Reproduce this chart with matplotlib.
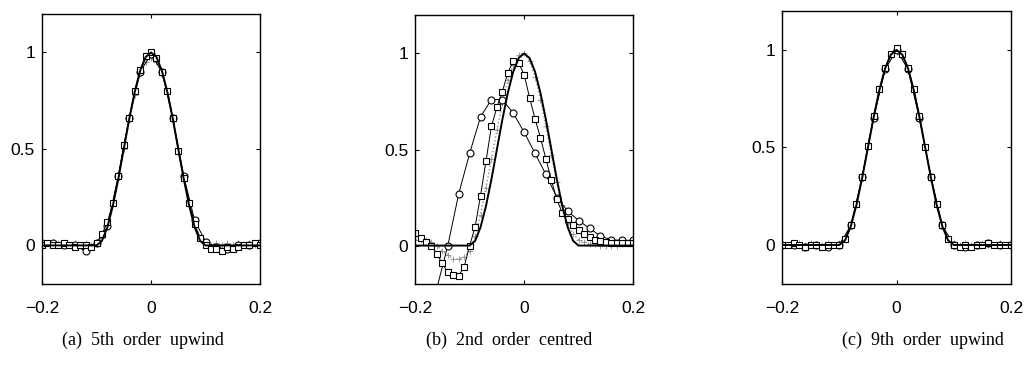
import numpy as np
import matplotlib
matplotlib.use('Agg')
import matplotlib.pyplot as plt

# x positions of the sampled values
x41 = np.round(np.linspace(-0.2, 0.2, 41), 2)
x21 = np.round(np.linspace(-0.2, 0.2, 21), 2)

# exact profile (same in all three panels)
exact = [0, 0, 0, 0, 0, 0, 0, 0, 0, 0,
         0, 0.024, 0.095, 0.206, 0.345, 0.5, 0.655, 0.794, 0.905, 0.976, 1.0,
         0.976, 0.905, 0.794, 0.655, 0.5, 0.345, 0.206, 0.095, 0.024, 0,
         0, 0, 0, 0, 0, 0, 0, 0, 0, 0]

# (a) 5th order upwind
a_circ = [0.01, 0.01, 0.0, 0.0, -0.03, 0.01, 0.10, 0.36, 0.66, 0.90, 0.99,
          0.90, 0.66, 0.36, 0.13, 0.02, -0.01, -0.02, 0.0, 0.0, 0.01]
a_sq = [0.0, 0.01, 0.0, 0.0, 0.01, 0.0, -0.01, 0.0, 0.0, -0.01,
        0.01, 0.06, 0.12, 0.22, 0.36, 0.52, 0.66, 0.80, 0.91, 0.98, 1.0,
        0.97, 0.90, 0.80, 0.66, 0.49, 0.35, 0.22, 0.11, 0.04, 0.0,
        -0.02, -0.02, -0.03, -0.01, -0.02, -0.01, 0.0, 0.0, 0.01, 0.0]
a_dot = [0.01, 0.01, 0.02, 0.01, 0.01, 0.0, 0.01, 0.0, 0.01, 0.0,
         0.01, 0.04, 0.11, 0.22, 0.35, 0.50, 0.65, 0.78, 0.89, 0.95, 0.97,
         0.95, 0.89, 0.79, 0.65, 0.50, 0.35, 0.22, 0.11, 0.04, 0.01,
         0.0, 0.01, 0.0, 0.01, 0.0, 0.01, 0.0, 0.01, 0.0, 0.01]

# (b) 2nd order centred
b_circ_x = [-0.18, -0.16, -0.14, -0.12, -0.10, -0.08, -0.06, -0.04, -0.02, 0.0,
            0.02, 0.04, 0.06, 0.08, 0.10, 0.12, 0.14, 0.16, 0.18, 0.20]
b_circ = [-0.50, -0.22, 0.0, 0.27, 0.48, 0.67, 0.76, 0.76, 0.69, 0.59,
          0.48, 0.37, 0.25, 0.18, 0.13, 0.09, 0.05, 0.03, 0.027, 0.027]
b_sq = [0.065, 0.04, 0.02, 0.0, -0.046, -0.093, -0.14, -0.153, -0.156, -0.11,
        0.0, 0.096, 0.26, 0.44, 0.62, 0.72, 0.80, 0.90, 0.96, 0.95, 0.89,
        0.77, 0.66, 0.56, 0.45, 0.34, 0.24, 0.17, 0.14, 0.105, 0.08,
        0.062, 0.045, 0.03, 0.025, 0.02, 0.015, 0.015, 0.015, 0.015, 0.015]
b_dot = [0.03, 0.03, 0.03, 0.02, 0.0, -0.03, -0.05, -0.07, -0.07, -0.06,
         -0.03, 0.05, 0.16, 0.30, 0.45, 0.60, 0.74, 0.86, 0.94, 0.99, 1.0,
         0.96, 0.88, 0.76, 0.62, 0.47, 0.33, 0.21, 0.12, 0.06, 0.03,
         0.02, 0.01, 0.01, 0.0, 0.0, 0.0, 0.0, 0.01, 0.01, 0.01]

# (c) 9th order upwind
c_circ = [0.0, 0.0, -0.01, 0.0, -0.01, 0.0, 0.10, 0.35, 0.65, 0.90, 1.0,
          0.90, 0.65, 0.35, 0.10, 0.0, -0.01, 0.0, 0.01, 0.0, 0.0]
c_sq = [0.0, 0.0, 0.01, 0.0, -0.01, 0.0, 0.0, -0.01, 0.0, 0.0,
        0.0, 0.03, 0.10, 0.21, 0.35, 0.51, 0.66, 0.80, 0.91, 0.98, 1.01,
        0.98, 0.91, 0.80, 0.66, 0.50, 0.35, 0.21, 0.10, 0.03, 0.0,
        -0.01, 0.0, -0.01, 0.0, 0.0, 0.01, 0.0, 0.0, 0.0, 0.0]
c_dot = [0.01, 0.0, 0.01, 0.01, 0.0, 0.01, 0.0, 0.0, 0.01, 0.0,
         0.01, 0.04, 0.11, 0.21, 0.35, 0.50, 0.65, 0.79, 0.90, 0.97, 0.99,
         0.97, 0.90, 0.79, 0.65, 0.50, 0.35, 0.21, 0.10, 0.04, 0.01,
         0.0, 0.01, 0.0, 0.0, 0.01, 0.0, 0.0, 0.01, 0.0, 0.0]

captions = ['(a)  5th  order  upwind', '(b)  2nd  order  centred',
            '(c)  9th  order  upwind']

fig = plt.figure(figsize=(10.25, 3.71), dpi=100)
boxes = [[0.041, 0.2345, 0.2127, 0.728],
         [0.405, 0.2345, 0.2127, 0.725],
         [0.763, 0.2345, 0.2234, 0.736]]
cap_x = [0.139, 0.497, 0.900]

panels = [
    (x21, a_circ, x41, a_sq, a_dot),
    (b_circ_x, b_circ, x41, b_sq, b_dot),
    (x21, c_circ, x41, c_sq, c_dot),
]

for i, (cx, cy, sx, sy, dy) in enumerate(panels):
    ax = fig.add_axes(boxes[i])
    ax.plot(x41, dy, ':', color='0.55', lw=1.0, marker='+', ms=4, mew=0.6)
    ax.plot(cx, cy, '-', color='k', lw=0.7, marker='o', ms=5,
            mfc='white', mec='k', mew=0.8)
    ax.plot(sx, sy, '-', color='k', lw=0.7, marker='s', ms=4.5,
            mfc='white', mec='k', mew=0.8)
    ax.plot(x41, exact, '-', color='k', lw=1.4)
    ax.set_xlim(-0.2, 0.2)
    ax.set_ylim(-0.2, 1.2)
    ax.set_xticks([-0.2, 0, 0.2])
    ax.set_xticklabels(['\u22120.2', '0', '0.2'])
    ax.set_yticks([0, 0.5, 1])
    ax.set_yticklabels(['0', '0.5', '1'])
    ax.tick_params(direction='in', length=3, width=0.8, labelsize=12.5,
                   top=True, right=True)
    ax.tick_params(axis='x', pad=12)
    ax.tick_params(axis='y', pad=5)
    for lab in ax.get_xticklabels() + ax.get_yticklabels():
        lab.set_fontfamily('Liberation Sans')
    for s in ax.spines.values():
        s.set_linewidth(1.0)
    fig.text(cap_x[i], 0.083, captions[i], ha='center', va='center',
             fontsize=13, family='Liberation Serif')

plt.savefig('out.png', dpi=100)
